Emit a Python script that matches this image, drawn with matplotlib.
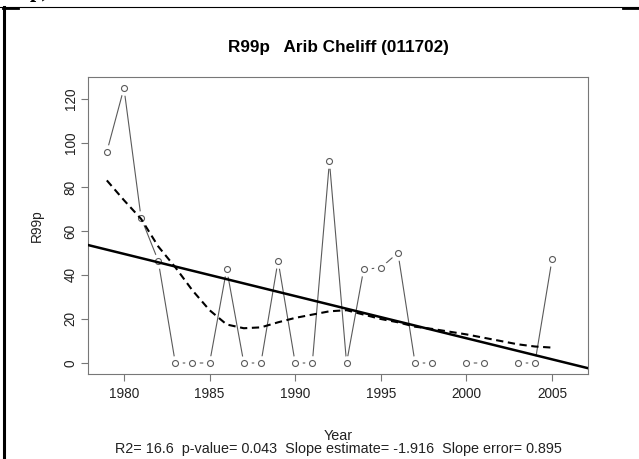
import numpy as np
import matplotlib
matplotlib.use("Agg")
import matplotlib.pyplot as plt
from matplotlib.lines import Line2D

plt.rcParams['font.family'] = ['Liberation Sans', 'DejaVu Sans']

# R99p series, NaN = missing year
years = np.arange(1979, 2006)
r99p = [96, 125, 66, 46.5, 0, 0, 0, 42.7, 0, 0, 46.5, 0, 0, 91.6, 0,
        42.6, 43.3, 50.1, 0, 0, np.nan, 0, 0, np.nan, 0, 0, 47.1]
# lowess smooth (same years, NaN where missing)
smooth = [83, 74, 65.5, 53, 43.5, 33, 24, 17.5, 15.8, 16.2, 18.5, 20.5, 22, 23.5, 24,
          22, 20, 18.5, 16.5, 15.5, np.nan, 13, 11.5, np.nan, 8.5, 7.5, 7]
title = "R99p   Arib Cheliff (011702)"
stats = "R2= 16.6  p-value= 0.043  Slope estimate= -1.916  Slope error= 0.895"

r99p = np.array(r99p, dtype=float)
smooth = np.array(smooth, dtype=float)
ok = ~np.isnan(r99p)

W, H = 639, 459
fig = plt.figure(figsize=(W / 100, H / 100), dpi=100)
ax = fig.add_axes([88 / W, 1 - 374 / H, 500 / W, 297 / H])

grey = '#5a5a5a'
ax.plot(years, r99p, color=grey, lw=0.8, zorder=2)
ax.plot(years, r99p, ls='none', marker='o', ms=10.5, mfc='white', mec='none', zorder=3)
ax.plot(years, r99p, ls='none', marker='o', ms=4.3, mfc='white', mec=grey, mew=0.8, zorder=4)

xlim = (1977.9, 2007.1)
b, a = np.polyfit(years[ok], r99p[ok], 1)
xx = np.array(xlim)
ax.plot(xx, a + b * xx, color='black', lw=1.8, zorder=5)
ax.plot(years[ok], smooth[ok], color='black', lw=1.5, ls=(0, (3.5, 2.2)), zorder=5)

ax.set_xlim(*xlim)
ax.set_ylim(-5, 130)
ax.set_xticks(np.arange(1980, 2006, 5))
ax.set_yticks(np.arange(0, 121, 20))
for s in ax.spines.values():
    s.set_color('#777777')
    s.set_linewidth(0.8)
ax.tick_params(colors='#777777', length=5, width=0.8, labelcolor='#222222', labelsize=9.8)
ax.tick_params(axis='x', pad=4)
ax.tick_params(axis='y', pad=2.5)
for lab in ax.get_yticklabels():
    lab.set_rotation(90)
    lab.set_va('center')

ax.set_title(title, fontsize=12.3, fontweight='bold', pad=18)
ax.set_ylabel("R99p", fontsize=9.8, color='#222222', labelpad=14)
fig.text(338 / W, 1 - 436 / H, "Year", ha='center', va='center', fontsize=10.4, color='#222222')
fig.text(338 / W, 1 - 449.5 / H, stats, ha='center', va='center', fontsize=10.4, color='#222222')

# document frame around the chart
def px_line(x0, y0, x1, y1, lw):
    fig.add_artist(Line2D([x0 / W, x1 / W], [1 - y0 / H, 1 - y1 / H], color='black', lw=lw))

px_line(0, 6.5, W, 6.5, 0.8)
px_line(3, 7.5, 18, 7.5, 2)
px_line(623, 7.5, W, 7.5, 2)
px_line(4, 7, 4, H, 2.2)
fig.text(30 / W, 1 + 3.5 / H, "p)", fontsize=16, fontweight='bold', family='Liberation Serif',
         va='baseline', ha='left')

fig.savefig("out.png", dpi=100)
